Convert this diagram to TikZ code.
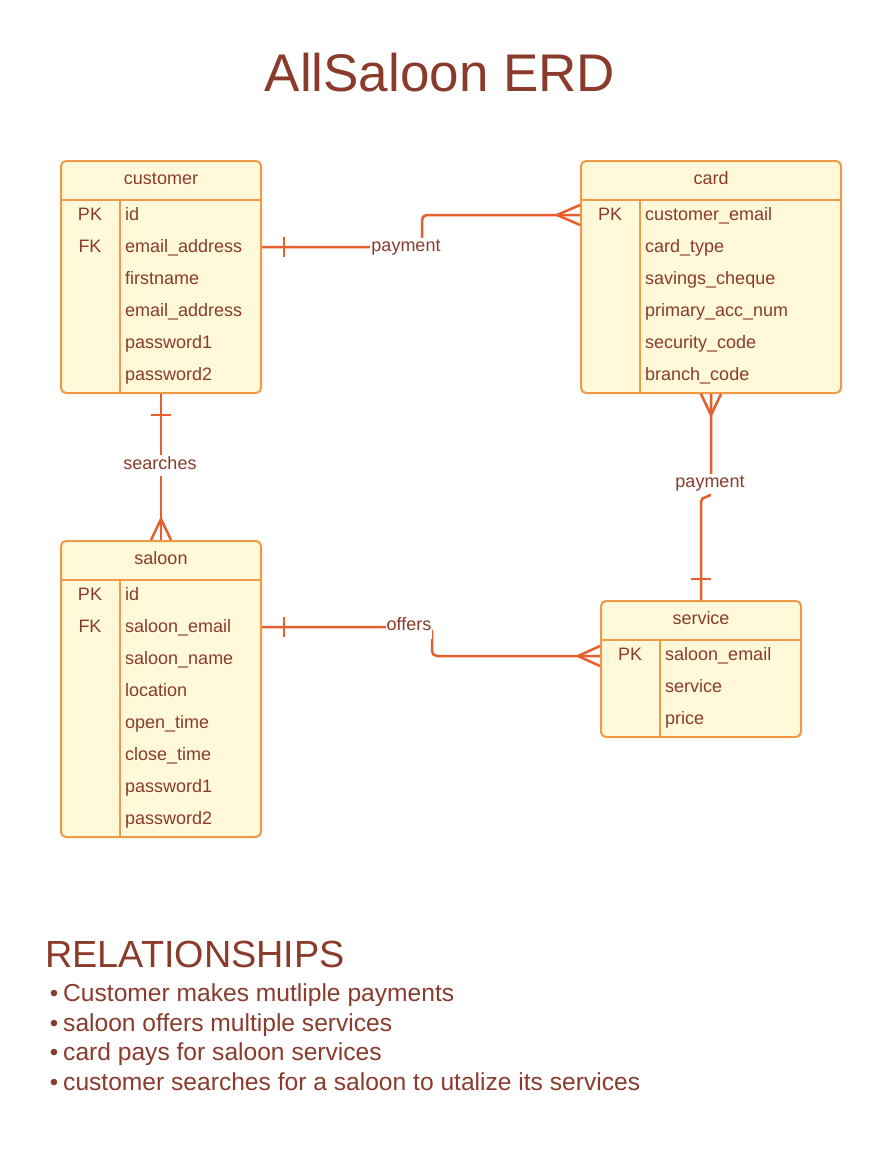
\documentclass[tikz,border=0pt]{standalone}
\usepackage{fontspec}
\setmainfont{Liberation Sans}
\usetikzlibrary{positioning, calc}
\definecolor{erdtext}{HTML}{8A3B2B}
\definecolor{erdborder}{HTML}{F09A48}
\definecolor{erdfill}{HTML}{FFF9DA}
\definecolor{erdline}{HTML}{E65F2E}
\tikzset{
entity/.style={draw=erdborder, fill=erdfill, line width=2pt, rounded corners=5pt, anchor=north west, inner sep=0pt}, % one table
divider/.style={draw=erdborder, line width=2pt}, % lines inside a table
head/.style={anchor=base, text=erdtext, font=\fontsize{18}{20}\selectfont}, % table name
field/.style={anchor=base west, text=erdtext, inner sep=0pt, font=\fontsize{18}{20}\selectfont},
keyname/.style={anchor=base, text=erdtext, inner sep=0pt, font=\fontsize{18}{20}\selectfont},
rel/.style={draw=erdline, line width=2.5pt, rounded corners=5pt}, % relationship lines
relmark/.style={draw=erdline, line width=2.5pt}, % one bars and crow's feet
rellabel/.style={anchor=base, fill=white, text=erdtext, inner sep=1pt, text depth=6pt, font=\fontsize{18}{20}\selectfont},
}

\begin{document}
\begin{tikzpicture}[x=1pt, y=-1pt]
\useasboundingbox[fill=white] (0,0) rectangle (880,1151);

\node[anchor=base, text=erdtext, font=\fontsize{53}{60}\selectfont] (title) at (440,91) {AllSaloon ERD};

% customer
\node[entity, minimum width=200pt, minimum height=232pt] (customer) at (60,160) {};
\node[head] at ($(customer.north)+(0,24)$) {customer};
\draw[divider] ($(customer.north west)+(0,40)$) -- ($(customer.north east)+(0,40)$)
               ($(customer.north west)+(60,40)$) -- ($(customer.south west)+(60,0)$);
\node[keyname] at ($(customer.north west)+(30,60)$) {PK};
\node[keyname] at ($(customer.north west)+(30,92)$) {FK};
\foreach \f [count=\i] in {id, email\_address, firstname, email\_address, password1, password2}
    \node[field] at ($(customer.north west)+(65,28+32*\i)$) {\f};

% card
\node[entity, minimum width=260pt, minimum height=232pt] (card) at (580,160) {};
\node[head] at ($(card.north)+(0,24)$) {card};
\draw[divider] ($(card.north west)+(0,40)$) -- ($(card.north east)+(0,40)$)
               ($(card.north west)+(60,40)$) -- ($(card.south west)+(60,0)$);
\node[keyname] at ($(card.north west)+(30,60)$) {PK};
\foreach \f [count=\i] in {customer\_email, card\_type, savings\_cheque, primary\_acc\_num, security\_code, branch\_code}
    \node[field] at ($(card.north west)+(65,28+32*\i)$) {\f};

% saloon
\node[entity, minimum width=200pt, minimum height=296pt] (saloon) at (60,540) {};
\node[head] at ($(saloon.north)+(0,24)$) {saloon};
\draw[divider] ($(saloon.north west)+(0,40)$) -- ($(saloon.north east)+(0,40)$)
               ($(saloon.north west)+(60,40)$) -- ($(saloon.south west)+(60,0)$);
\node[keyname] at ($(saloon.north west)+(30,60)$) {PK};
\node[keyname] at ($(saloon.north west)+(30,92)$) {FK};
\foreach \f [count=\i] in {id, saloon\_email, saloon\_name, location, open\_time, close\_time, password1, password2}
    \node[field] at ($(saloon.north west)+(65,28+32*\i)$) {\f};

% service
\node[entity, minimum width=200pt, minimum height=136pt] (service) at (600,600) {};
\node[head] at ($(service.north)+(0,24)$) {service};
\draw[divider] ($(service.north west)+(0,40)$) -- ($(service.north east)+(0,40)$)
               ($(service.north west)+(60,40)$) -- ($(service.south west)+(60,0)$);
\node[keyname] at ($(service.north west)+(30,60)$) {PK};
\foreach \f [count=\i] in {saloon\_email, service, price}
    \node[field] at ($(service.north west)+(65,28+32*\i)$) {\f};

% customer -- card
\coordinate (cu1) at ($(customer.north east)+(0,87)$);
\coordinate (ca1) at ($(card.north west)+(0,55)$);
\draw[rel] (cu1) -- ++(160,0) |- (ca1);
\draw[relmark] ($(cu1)+(22,-10)$) -- ($(cu1)+(22,10)$);
\draw[relmark] ($(ca1)+(0,-10)$) -- ($(ca1)+(-23,0)$) -- ($(ca1)+(0,10)$);
\node[rellabel] (pay1) at (406,251) {payment};

% customer -- saloon
\draw[rel] (customer.south) -- (saloon.north);
\draw[relmark] ($(customer.south)+(-10,21)$) -- ($(customer.south)+(10,21)$);
\draw[relmark] ($(saloon.north)+(-10,0)$) -- ($(saloon.north)+(0,-21)$) -- ($(saloon.north)+(10,0)$);
\node[rellabel] (search) at (160,469) {searches};

% card -- service
\draw[rel] (card.south) -- ++(0,103) -| (service.north);
\draw[relmark] ($(card.south)+(-10,0)$) -- ($(card.south)+(0,21)$) -- ($(card.south)+(10,0)$);
\draw[relmark] ($(service.north)+(-10,-21)$) -- ($(service.north)+(10,-21)$);
\node[rellabel] (pay2) at (710,487) {payment};

% saloon -- service
\coordinate (sa1) at ($(saloon.north east)+(0,87)$);
\coordinate (se1) at ($(service.north west)+(0,56)$);
\draw[rel] (sa1) -- ++(170,0) |- (se1);
\draw[relmark] ($(sa1)+(22,-10)$) -- ($(sa1)+(22,10)$);
\draw[relmark] ($(se1)+(0,-10)$) -- ($(se1)+(-22,0)$) -- ($(se1)+(0,10)$);
\node[rellabel, text depth=8pt] (offer) at (409,630) {offers};

% relationships
\node[anchor=base west, inner sep=0pt, text=erdtext, font=\fontsize{37.8}{40}\selectfont] (reltitle) at (45,967) {RELATIONSHIPS};
\foreach \t [count=\i] in {Customer makes mutliple payments, saloon offers multiple services, card pays for saloon services, customer searches for a saloon to utalize its services} {
    \node[anchor=base, inner sep=0pt, text=erdtext, font=\fontsize{24}{28}\selectfont] at (54,972+29.6*\i) {•};
    \node[anchor=base west, inner sep=0pt, text=erdtext, font=\fontsize{24.6}{28}\selectfont] at (63,972+29.6*\i) {\t};
}
\end{tikzpicture}
\end{document}
